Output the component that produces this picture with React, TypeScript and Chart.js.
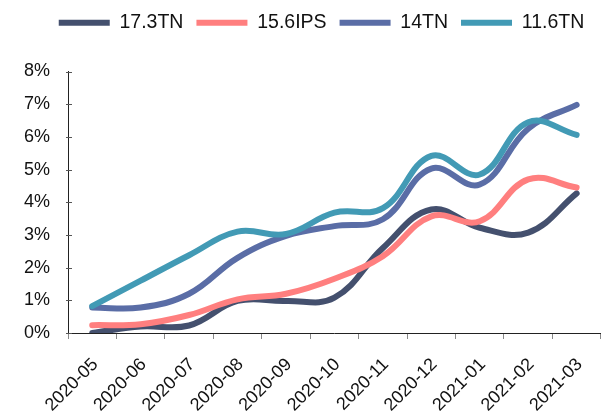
import React, { useEffect, useRef } from "react";
import { Chart, registerables } from "chart.js";

Chart.register(...registerables);

const months = [
  "2020-05", "2020-06", "2020-07", "2020-08", "2020-09", "2020-10",
  "2020-11", "2020-12", "2021-01", "2021-02", "2021-03",
];

const seriesNames = ["17.3TN", "15.6IPS", "14TN", "11.6TN"];

const tn173 = [0.0, 0.2, 0.23, 0.98, 0.98, 1.08, 2.6, 3.78, 3.22, 3.07, 4.27];
const ips156 = [0.24, 0.27, 0.55, 1.03, 1.2, 1.66, 2.35, 3.57, 3.42, 4.7, 4.45];
const tn14 = [0.78, 0.78, 1.2, 2.3, 2.97, 3.27, 3.48, 5.03, 4.54, 6.25, 6.98];
const tn116 = [0.82, 1.6, 2.38, 3.1, 3.03, 3.68, 3.82, 5.42, 4.85, 6.45, 6.06];

const seriesColors = ["#44506E", "#FF7F7F", "#5A6DA6", "#429AB5"];

const yTicks = [0, 1, 2, 3, 4, 5, 6, 7, 8];

const FONT = "'Liberation Sans', Arial, sans-serif";

// Legend placement: extra room below the row, nudged right a little
const legendPlacement = {
  id: "legendPlacement",
  beforeInit(chart: any) {
    const legend = chart.legend;
    if (!legend) return;
    const fit = legend.fit;
    legend.fit = function () {
      fit.call(this);
      this.height += 29;
    };
  },
  afterLayout(chart: any) {
    const legend = chart.legend;
    if (!legend) return;
    legend.left += 19;
    legend.right += 19;
  },
};

// Short tick marks crossing the value axis line
const yAxisTicks = {
  id: "yAxisTicks",
  afterDraw(chart: any) {
    const y = chart.scales.y;
    const ctx = chart.ctx;
    const x0 = y.right;
    ctx.save();
    ctx.strokeStyle = "#555555";
    ctx.lineWidth = 1;
    ctx.beginPath();
    for (const v of yTicks) {
      const py = Math.round(y.getPixelForValue(v)) + 0.5;
      ctx.moveTo(x0 - 2, py);
      ctx.lineTo(x0 + 4, py);
    }
    ctx.stroke();
    ctx.restore();
  },
};

export default function App() {
  const canvasRef = useRef<HTMLCanvasElement | null>(null);

  useEffect(() => {
    const canvas = canvasRef.current;
    if (!canvas) return;
    const values = [tn173, ips156, tn14, tn116];
    const chart = new Chart(canvas, {
      type: "line",
      data: {
        labels: months,
        datasets: values.map((data, i) => ({
          label: seriesNames[i],
          data,
          borderColor: seriesColors[i],
          backgroundColor: seriesColors[i],
          borderWidth: 6,
          borderCapStyle: "round" as const,
          borderJoinStyle: "round" as const,
          pointRadius: 0,
          pointHoverRadius: 0,
          tension: 0.4,
          fill: false,
          order: values.length - 1 - i,
        })),
      },
      options: {
        animation: false,
        responsive: false,
        maintainAspectRatio: false,
        events: [],
        layout: { padding: { left: 0, right: 2, top: 0, bottom: 0 } },
        plugins: {
          tooltip: { enabled: false },
          legend: {
            position: "top",
            align: "center",
            labels: {
              usePointStyle: true,
              pointStyle: "line",
              pointStyleWidth: 51,
              boxWidth: 51,
              boxHeight: 19.5,
              padding: 13,
              color: "#111111",
              font: { family: FONT, size: 19.5 },
              sort: (a: any, b: any) => a.datasetIndex - b.datasetIndex,
            },
          },
        },
        scales: {
          x: {
            type: "category",
            offset: true,
            grid: {
              display: true,
              drawOnChartArea: false,
              offset: true,
              tickLength: 6,
              color: "#888888",
              lineWidth: 1,
            },
            border: { display: true, color: "#222222", width: 1 },
            ticks: {
              autoSkip: false,
              minRotation: 45,
              maxRotation: 45,
              padding: 15,
              labelOffset: 3,
              color: "#111111",
              font: { family: FONT, size: 18 },
            },
            afterFit(scale: any) {
              scale.height = 78;
            },
          },
          y: {
            type: "linear",
            min: 0,
            max: 8,
            afterBuildTicks(scale: any) {
              scale.ticks = yTicks.map((v) => ({ value: v }));
            },
            grid: {
              display: true,
              drawOnChartArea: false,
              drawTicks: false,
              tickLength: 0,
            },
            border: { display: true, color: "#222222", width: 1 },
            ticks: {
              padding: 18,
              color: "#111111",
              font: { family: FONT, size: 18 },
              callback: (v: any) => `${v}%`,
            },
            afterFit(scale: any) {
              scale.width = 68;
            },
          },
        },
      },
      plugins: [legendPlacement, yAxisTicks],
    });
    return () => chart.destroy();
  }, []);

  return (
    <div style={{ position: "absolute", left: 0, top: 0, width: 607, height: 411, background: "#ffffff" }}>
      <canvas ref={canvasRef} width={607} height={411} />
    </div>
  );
}
